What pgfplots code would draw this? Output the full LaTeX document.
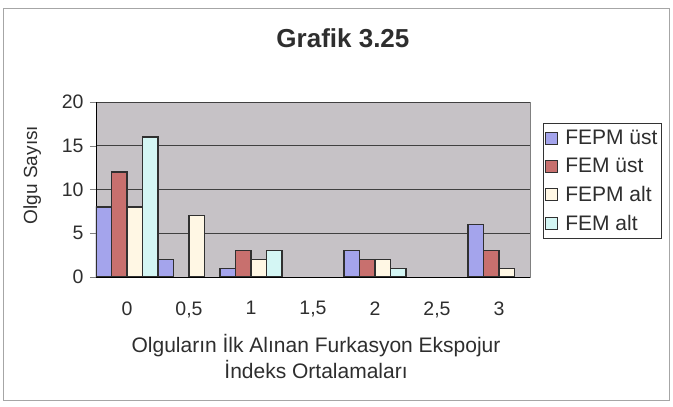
\documentclass[border=0pt]{standalone}
\usepackage{pgfplots}
\pgfplotsset{compat=1.18}
\usepackage{fontspec}
\setmainfont{Liberation Sans}

\definecolor{fepmust}{HTML}{A4A4EC}
\definecolor{femust}{HTML}{C8706E}
\definecolor{fepmalt}{HTML}{FFF7E4}
\definecolor{femalt}{HTML}{D4F6F4}
\definecolor{plotbg}{HTML}{C6C2C6}
\definecolor{txt}{HTML}{2E2E2E}
\definecolor{edge}{HTML}{303030}

\begin{document}
\begin{tikzpicture}
\useasboundingbox (0pt,0pt) rectangle (673pt,407pt);
% outer chart frame
\draw[gray!70, line width=0.8pt] (3pt,7pt) rectangle (669pt,399pt);
\begin{axis}[
    at={(96pt,130pt)}, anchor=south west,
    scale only axis, width=434pt, height=175pt,
    ybar=0pt, bar width=0.25,
    xmin=-0.5, xmax=6.5, ymin=0, ymax=20,
    xtick={0,...,6},
    xticklabels={0,{0,5},1,{1,5},2,{2,5},3},
    xtick style={draw=none},
    minor xtick={-0.5,0.5,...,6.5},
    minor tick length=6pt, major tick length=6pt,
    tick align=outside,
    ytick={0,5,...,20},
    axis x line*=bottom, axis y line*=left,
    axis line style={black, line width=0.6pt},
    axis background/.style={fill=plotbg, draw=gray},
    ymajorgrids, grid style={black!75, line width=0.6pt},
    /pgf/number format/assume math mode=true,
    ticklabel style={font=\fontsize{19.5}{21}\selectfont, text=txt},
    xticklabel style={anchor=north, yshift=-15pt},
    yticklabel style={anchor=east, xshift=-3pt},
    title={\bfseries Grafik 3.25},
    title style={at={(axis description cs:0.569,1)}, anchor=center,
                 yshift=58pt, font=\fontsize{26}{28}\selectfont, text=txt},
    xlabel={Olguların İlk Alınan Furkasyon Ekspojur\\İndeks Ortalamaları},
    xlabel style={at={(axis description cs:0.507,0)}, anchor=center,
                  yshift=-79pt, align=center,
                  font=\fontsize{21}{26}\selectfont, text=txt},
    ylabel={Olgu Sayısı},
    ylabel style={at={(axis description cs:-0.147,0.583)}, anchor=center,
                  font=\fontsize{19}{20}\selectfont, text=txt},
    legend style={at={(1,1)}, anchor=north west, xshift=13pt, yshift=-21pt,
                  draw=black!80, font=\fontsize{21}{23}\selectfont,
                  text=txt, row sep=8pt, inner xsep=2pt, inner ysep=5pt},
    legend cell align=left,
    legend image code/.code={%
        \draw[#1] (2pt,-6pt) rectangle (14pt,6pt);
        \node[inner sep=0pt, minimum size=0pt, draw=none, fill=none]
            at (19pt,0pt) {};},
]
\addplot[draw=edge, line width=1.1pt, fill=fepmust]
    coordinates {(0,8)(1,2)(2,1)(4,3)(6,6)};
\addlegendentry{FEPM üst}
\addplot[draw=edge, line width=1.1pt, fill=femust]
    coordinates {(0,12)(2,3)(4,2)(6,3)};
\addlegendentry{FEM üst}
\addplot[draw=edge, line width=1.1pt, fill=fepmalt]
    coordinates {(0,8)(1,7)(2,2)(4,2)(6,1)};
\addlegendentry{FEPM alt}
\addplot[draw=edge, line width=1.1pt, fill=femalt]
    coordinates {(0,16)(2,3)(4,1)};
\addlegendentry{FEM alt}
\end{axis}
\end{tikzpicture}
\end{document}
